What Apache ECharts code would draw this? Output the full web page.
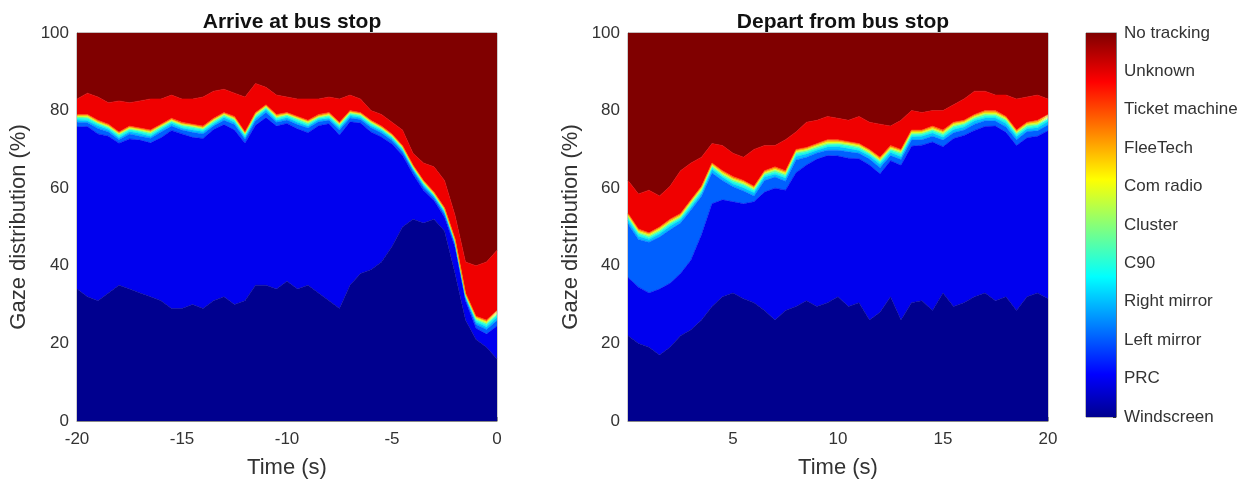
<!DOCTYPE html>
<html>
<head>
<meta charset="utf-8">
<script src="https://cdn.jsdelivr.net/npm/echarts@6/dist/echarts.min.js"></script>
<style>html,body{margin:0;padding:0;background:#fff;}#c{width:1249px;height:484px;}</style>
</head>
<body>
<div id="c"></div>
<script>
// ---- categories (bottom to top of the stack) ----
var categories = ['Windscreen','PRC','Left mirror','Right mirror','C90','Cluster','Com radio','FleeTech','Ticket machine','Unknown','No tracking'];
var colors = ['#00008f','#0000ef','#0060ff','#00bfff','#20ffdf','#80ff80','#dfff20','#ffaf00','#ff5000','#f00000','#800000'];
var titles = ['Arrive at bus stop','Depart from bus stop'];
var yTicks = [0,20,40,60,80,100];
var arriveTicks = [-20,-15,-10,-5,0];
var departTicks = [5,10,15,20];

// ---- time samples (s) ----
var arriveTime = [-20,-19.5,-19,-18.5,-18,-17.5,-17,-16.5,-16,-15.5,-15,-14.5,-14,-13.5,-13,-12.5,-12,-11.5,-11,-10.5,-10,-9.5,-9,-8.5,-8,-7.5,-7,-6.5,-6,-5.5,-5,-4.5,-4,-3.5,-3,-2.5,-2,-1.5,-1,-0.5,0];
var departTime = [0,0.5,1,1.5,2,2.5,3,3.5,4,4.5,5,5.5,6,6.5,7,7.5,8,8.5,9,9.5,10,10.5,11,11.5,12,12.5,13,13.5,14,14.5,15,15.5,16,16.5,17,17.5,18,18.5,19,19.5,20];

// ---- Arrive at bus stop: gaze share (%) per category ----
var aWindscreen = [34,32,31,33,35,34,33,32,31,29,29,30,29,31,32,30,31,35,35,34,36,34,35,33,31,29,35,38,39,41,45,50,52,51,52,49,38,26,21,19,16];
var aPRC = [41.8,43.9,43.0,40.4,36.6,38.7,39.4,39.7,42.0,45.9,45.0,43.1,43.8,44.1,44.4,45.0,40.6,41.2,43.2,42.0,40.7,41.3,39.3,43.1,45.6,44.7,42.1,38.8,35.5,32.2,26.4,18.5,11.6,8.5,4.8,3.5,6.8,4.9,2.9,3.4,8.5];
var aLeftMirror = [1.2,1.0,1.4,1.1,0.9,1.3,1.0,1.2,1.5,1.1,1.0,1.3,1.2,0.9,1.1,1.4,1.0,1.2,1.3,1.0,0.9,1.1,1.2,1.0,0.9,1.3,1.0,0.9,1.1,1.0,0.9,0.8,0.9,0.8,0.7,0.8,0.7,0.6,1.0,1.2,1.4];
var aRightMirror = [0.6,0.5,0.7,0.6,0.5,0.6,0.7,0.5,0.6,0.7,0.5,0.6,0.6,0.5,0.7,0.6,0.5,0.6,0.7,0.5,0.6,0.6,0.5,0.6,0.5,0.6,0.6,0.5,0.5,0.6,0.5,0.5,0.4,0.5,0.4,0.5,0.4,0.4,0.6,0.7,0.8];
var aC90 = [0.5,0.6,0.5,0.4,0.6,0.5,0.5,0.6,0.5,0.4,0.5,0.6,0.5,0.5,0.4,0.5,0.6,0.5,0.4,0.5,0.5,0.6,0.5,0.4,0.5,0.5,0.4,0.5,0.5,0.4,0.4,0.4,0.3,0.4,0.3,0.4,0.3,0.3,0.5,0.6,0.6];
var aCluster = [0.3,0.3,0.2,0.3,0.3,0.2,0.3,0.3,0.3,0.2,0.3,0.3,0.2,0.3,0.3,0.3,0.2,0.3,0.3,0.3,0.2,0.3,0.3,0.2,0.3,0.3,0.3,0.2,0.3,0.2,0.2,0.2,0.2,0.2,0.2,0.2,0.2,0.2,0.3,0.3,0.3];
var aComRadio = [0.2,0.3,0.2,0.2,0.2,0.3,0.2,0.2,0.2,0.3,0.2,0.2,0.2,0.3,0.2,0.2,0.2,0.3,0.2,0.2,0.2,0.2,0.3,0.2,0.2,0.2,0.2,0.2,0.2,0.2,0.2,0.2,0.2,0.2,0.2,0.2,0.2,0.2,0.3,0.3,0.3];
var aFleeTech = [0.2,0.2,0.3,0.2,0.2,0.2,0.2,0.3,0.2,0.2,0.2,0.2,0.3,0.2,0.2,0.2,0.2,0.2,0.2,0.3,0.2,0.2,0.2,0.2,0.3,0.2,0.2,0.2,0.2,0.2,0.2,0.2,0.2,0.2,0.2,0.2,0.2,0.2,0.2,0.3,0.3];
var aTicket = [0.2,0.2,0.2,0.3,0.2,0.2,0.2,0.2,0.2,0.2,0.3,0.2,0.2,0.2,0.2,0.3,0.2,0.2,0.2,0.2,0.2,0.2,0.2,0.3,0.2,0.2,0.2,0.2,0.2,0.2,0.2,0.2,0.2,0.2,0.2,0.2,0.2,0.2,0.2,0.2,0.3];
var aUnknown = [4,5.5,6,5.5,8,6,7,8,6.5,6,6,6.5,7.5,7,6,6,9,7.5,4.5,5,4,4.5,5.5,4,4,6,4,3.5,2.5,3,3,4,3,4.5,6.5,7,6,8,13,15,15.5];
var aNoTracking = [17,15.5,16.5,18,17.5,18,17.5,17,17,16,17,17,16.5,15,14.5,15.5,16.5,13,14,16,16.5,17,17,17,16.5,17,16,17,20,21,23,25,31,33.5,34.5,38,47,59,60,59,56];

// ---- Depart from bus stop: gaze share (%) per category ----
var dWindscreen = [22,20,19,17,19,22,23.5,26,29.5,32,33,31.5,30.5,28.5,26,28.5,29.5,31,29.5,30.5,32,29.5,30.5,26,28,32,26,30.5,31,28.5,33,29.5,30.5,32,33,31,32,28.5,32,33,31.5];
var dPRC = [15,14.5,14,17,16.5,16,18,22,26.5,25,23.5,24.5,26,30.5,34,31,34.5,35,38.0,37.9,36.3,38.2,37.1,40.0,35.7,35.1,39.9,40.3,40.1,43.4,37.7,43.3,43.1,42.9,42.9,45.0,42.4,42.5,41.0,40.4,43.3];
var dLeftMirror = [13.8,12.3,13.1,13.4,13.8,13.0,12.9,9.9,7.9,5.0,3.9,3.3,1.5,3.0,2.9,2.3,3.3,2.0,1.6,1.4,1.5,1.7,1.4,1.5,1.6,1.3,1.5,1.6,1.4,1.5,1.7,1.5,1.4,1.6,1.5,1.3,1.4,1.5,1.6,1.4,1.5];
var dRightMirror = [0.9,0.8,0.7,0.8,0.9,0.8,0.7,0.8,0.9,0.8,0.7,0.8,0.8,0.9,0.7,0.8,0.9,0.8,0.7,0.8,0.9,0.8,0.7,0.8,0.9,0.8,0.7,0.8,0.9,0.8,0.7,0.8,0.8,0.9,0.7,0.8,0.9,0.8,0.7,0.8,0.9];
var dC90 = [0.6,0.7,0.5,0.6,0.6,0.5,0.7,0.6,0.6,0.5,0.6,0.7,0.6,0.5,0.6,0.6,0.7,0.6,0.5,0.6,0.6,0.7,0.6,0.5,0.6,0.6,0.7,0.6,0.5,0.6,0.6,0.7,0.6,0.5,0.6,0.6,0.7,0.6,0.5,0.6,0.6];
var dCluster = [0.3,0.3,0.4,0.3,0.3,0.3,0.4,0.3,0.3,0.3,0.4,0.3,0.3,0.3,0.4,0.3,0.3,0.3,0.4,0.3,0.3,0.3,0.4,0.3,0.3,0.3,0.4,0.3,0.3,0.3,0.4,0.3,0.3,0.3,0.4,0.3,0.3,0.3,0.4,0.3,0.3];
var dComRadio = [0.4,0.3,0.3,0.4,0.3,0.3,0.3,0.4,0.3,0.3,0.3,0.4,0.3,0.3,0.3,0.4,0.3,0.3,0.3,0.4,0.3,0.3,0.3,0.4,0.3,0.3,0.3,0.4,0.3,0.3,0.3,0.4,0.3,0.3,0.3,0.4,0.3,0.3,0.3,0.4,0.3];
var dFleeTech = [0.3,0.3,0.3,0.3,0.4,0.3,0.3,0.3,0.3,0.4,0.3,0.3,0.3,0.3,0.4,0.3,0.3,0.3,0.3,0.4,0.3,0.3,0.3,0.3,0.4,0.3,0.3,0.3,0.3,0.4,0.3,0.3,0.3,0.3,0.4,0.3,0.3,0.3,0.3,0.4,0.3];
var dTicket = [0.2,0.3,0.2,0.2,0.2,0.3,0.2,0.2,0.2,0.2,0.3,0.2,0.2,0.2,0.2,0.3,0.2,0.2,0.2,0.2,0.3,0.2,0.2,0.2,0.2,0.3,0.2,0.2,0.2,0.2,0.3,0.2,0.2,0.2,0.2,0.3,0.2,0.2,0.2,0.2,0.3];
var dUnknown = [8.5,9,11,8,8.5,11,9.5,7.5,5,6.5,6,6,9.5,6.5,5.5,8,4.5,6.5,6,6,5.5,5.5,7,7,8.5,5,7.5,5,4.5,4,5,4.5,5.5,6,5,4,5.5,8,6.5,6.5,4];
var dNoTracking = [38,41.5,40.5,42,39.5,35.5,33.5,32,28.5,29,31,32,30,29,29,27.5,25.5,23,22.5,21.5,22,22.5,21.5,23,23.5,24,22.5,20,20.5,20,20,18.5,17,15,15,16,16,17,16.5,16,17];

var arriveLayers = [aWindscreen,aPRC,aLeftMirror,aRightMirror,aC90,aCluster,aComRadio,aFleeTech,aTicket,aUnknown,aNoTracking];
var departLayers = [dWindscreen,dPRC,dLeftMirror,dRightMirror,dC90,dCluster,dComRadio,dFleeTech,dTicket,dUnknown,dNoTracking];

var FONT = 'Liberation Sans, Arial, Helvetica, sans-serif';
var TXT = '#333333';

function makeSeries(layers, idx, stackName) {
  return layers.map(function (arr, k) {
    return {
      name: categories[k], type: 'line', stack: stackName,
      xAxisIndex: idx, yAxisIndex: idx,
      symbol: 'none', silent: true,
      lineStyle: { width: 0.6, color: colors[k] },
      areaStyle: { color: colors[k], opacity: 1 },
      data: arr
    };
  });
}

var grids = [
  { left: 77, top: 33, width: 420, height: 388, show: true, borderColor: '#9a9a9a', borderWidth: 1, backgroundColor: 'transparent' },
  { left: 628, top: 33, width: 420, height: 388, show: true, borderColor: '#9a9a9a', borderWidth: 1, backgroundColor: 'transparent' },
  { left: 1086, top: 33, width: 30, height: 384, show: true, borderColor: '#777', borderWidth: 1, backgroundColor: 'transparent' }
];

function xAxisFor(i, times, ticks) {
  var isTick = function (index, value) { return ticks.indexOf(Number(value)) >= 0; };
  return {
    type: 'category', gridIndex: i, data: times, boundaryGap: false,
    name: 'Time (s)', nameLocation: 'middle', nameGap: 36,
    nameTextStyle: { fontFamily: FONT, fontSize: 22, color: TXT },
    axisLine: { show: true, lineStyle: { color: '#888' } },
    axisTick: { show: true, inside: true, length: 4, interval: isTick, lineStyle: { color: '#888' } },
    splitLine: { show: false },
    axisLabel: {
      fontFamily: FONT, fontSize: 17, color: TXT, margin: 10, interval: isTick,
      formatter: function (v) { return String(v); }
    }
  };
}
function yAxisFor(i, gap) {
  return {
    type: 'value', gridIndex: i, min: 0, max: 100, interval: 20,
    name: 'Gaze distribution (%)', nameLocation: 'middle', nameGap: gap,
    nameTextStyle: { fontFamily: FONT, fontSize: 22, color: TXT },
    axisLine: { show: true, lineStyle: { color: '#888' } },
    axisTick: { show: true, inside: true, length: 4, lineStyle: { color: '#888' } },
    splitLine: { show: false },
    axisLabel: {
      fontFamily: FONT, fontSize: 17, color: TXT, margin: 8,
      formatter: function (v) { return yTicks.indexOf(v) >= 0 ? String(v) : ''; }
    }
  };
}

// jet-like gradient for the colour bar (bottom -> top)
var jetStops = [
  { offset: 0, color: '#00008f' },
  { offset: 0.111, color: '#0000ff' },
  { offset: 0.365, color: '#00ffff' },
  { offset: 0.619, color: '#ffff00' },
  { offset: 0.873, color: '#ff0000' },
  { offset: 1, color: '#800000' }
];

var option = {
  animation: false,
  backgroundColor: '#ffffff',
  title: [
    { text: titles[0], left: 287, top: 7, textAlign: 'center', textStyle: { fontFamily: FONT, fontSize: 21, fontWeight: 'bold', color: '#111' } },
    { text: titles[1], left: 838, top: 7, textAlign: 'center', textStyle: { fontFamily: FONT, fontSize: 21, fontWeight: 'bold', color: '#111' } }
  ],
  grid: grids,
  xAxis: [
    xAxisFor(0, arriveTime, arriveTicks),
    xAxisFor(1, departTime, departTicks),
    { type: 'category', gridIndex: 2, data: ['bar'], show: false }
  ],
  yAxis: [
    yAxisFor(0, 47),
    yAxisFor(1, 46),
    {
      type: 'value', gridIndex: 2, min: 0, max: 10, interval: 1, position: 'right',
      axisLine: { show: true, lineStyle: { color: '#777' } },
      axisTick: { show: true, inside: true, length: 3, lineStyle: { color: '#333' } },
      splitLine: { show: false },
      axisLabel: {
        fontFamily: FONT, fontSize: 17, color: TXT, margin: 8,
        formatter: function (v) { return categories[Math.round(v)] || ''; }
      }
    }
  ],
  series: makeSeries(arriveLayers, 0, 'arrive')
    .concat(makeSeries(departLayers, 1, 'depart'))
    .concat([{
      type: 'bar', xAxisIndex: 2, yAxisIndex: 2, barWidth: '100%', silent: true,
      data: [10],
      itemStyle: { color: { type: 'linear', x: 0, y: 1, x2: 0, y2: 0, colorStops: jetStops } }
    }])
};

var chart = echarts.init(document.getElementById('c'), null, { renderer: 'canvas' });
chart.setOption(option);
</script>
</body>
</html>
